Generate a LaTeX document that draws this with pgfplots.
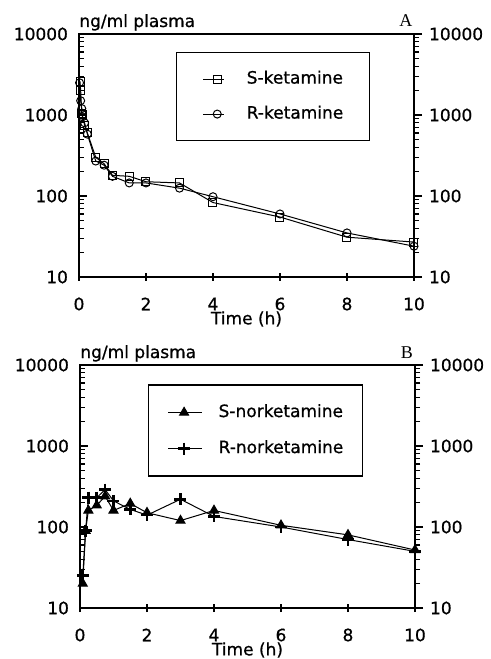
\documentclass[border=0pt]{standalone}
\usepackage{fontspec}
\setmainfont{DejaVu Sans}[RawFeature={embolden=0.8}]
\newfontfamily\serifA{Liberation Serif}
\usepackage{pgfplots}
\pgfplotsset{compat=1.18}

\pgfplotsset{
  every axis/.append style={
    scale only axis, width=167.5pt, height=121.5pt,
    xmin=0, xmax=10, ymin=10, ymax=10000,
    xtick={0,2,...,10},
    clip mode=individual,
    /pgf/number format/1000 sep={},
    /pgf/number format/assume math mode=true,
    axis line style={line width=0.6pt},
    every tick/.style={black, line width=0.6pt},
    major tick length=4pt, minor tick length=2.5pt,
    font=\fontsize{8.5}{10}\selectfont,
  },
  legA/.style={legend image code/.code={%
    \draw[##1,mark=none] (0pt,0pt) -- (10.5pt,0pt);
    \draw[##1,only marks] plot coordinates {(7pt,0pt)};}},
  legB/.style={legend image code/.code={%
    \draw[##1,mark=none] (0pt,0pt) -- (17pt,0pt);
    \draw[##1,only marks] plot coordinates {(8pt,0pt)};}},
  mainax/.style={
    log ticks with fixed point,
    ytick pos=left, xtick pos=bottom,
    xtick align=center, ytick align=inside,
    xticklabel style={anchor=center, yshift=-11.5pt},
    yticklabel style={xshift=-2pt},
    xlabel={Time (h)},
    xlabel style={at={(axis description cs:0.5,0)}, anchor=center, inner sep=0pt, yshift=-21pt},
    legend cell align=left,
  },
}

\begin{document}
\begin{tikzpicture}
\path (-39.5pt,138.5pt) rectangle (203.5pt,-191pt);

% panel A
\begin{semilogyaxis}[mainax, name=top, at={(0,0)}, anchor=south west,
  legend style={at={(0.29,0.926)}, anchor=north west, draw=black, line width=0.6pt,
    inner xsep=13pt, inner ysep=9pt, row sep=9pt,
    nodes={inner sep=0pt, text height=6.5pt, text depth=2pt},
    /tikz/every odd column/.style={column sep=11pt}},
]
\addplot[black, line width=0.5pt, mark=square, mark size=2pt, legA]
  coordinates {
  (0.03,2600) (0.05,2000) (0.083,1050) (0.1,1000) (0.167,750) (0.25,600)
  (0.5,300) (0.75,250) (1,180) (1.5,175) (2,150) (3,145) (4,83) (6,55) (8,31) (10,27)
};
\addlegendentry{S-ketamine\hspace{4.5pt}}
\addplot[black, line width=0.5pt, mark=o, mark size=2pt, legA]
  coordinates {
  (0.017,2500) (0.05,1500) (0.083,1200) (0.1,950) (0.167,800) (0.25,580)
  (0.5,270) (0.75,240) (1,175) (1.5,145) (2,145) (3,125) (4,98) (6,60) (8,35) (10,24)
};
\addlegendentry{R-ketamine}
\node[anchor=base west, inner sep=0pt, yshift=3.5pt, font=\fontsize{8.5}{10}\selectfont] at (rel axis cs:0,1) {ng/ml plasma};
\node[anchor=base, inner sep=0pt, yshift=3.5pt, font=\serifA\fontsize{9}{10}\selectfont] at (rel axis cs:0.976,1) {A};
\end{semilogyaxis}
\begin{semilogyaxis}[at={(0,0)}, anchor=south west,
  log ticks with fixed point,
  axis y line*=right, hide x axis, ytick align=outside]
\addplot[draw=none] coordinates {(1,100)};
\end{semilogyaxis}

% panel B
\begin{semilogyaxis}[mainax, name=bot, at={(0.5pt,-165.5pt)}, anchor=south west,
  legend style={at={(0.203,0.92)}, anchor=north west, draw=black, line width=0.6pt,
    inner xsep=9.5pt, inner ysep=9.5pt, row sep=9.5pt,
    nodes={inner sep=0pt, text height=6.5pt, text depth=2pt},
    /tikz/every odd column/.style={column sep=8pt}},
]
\addplot[black, line width=0.5pt, mark=triangle*, mark size=2.6pt, legB]
  coordinates {
  (0.083,20) (0.167,90) (0.25,160) (0.5,185) (0.75,240) (1,160) (1.5,195)
  (2,150) (3,120) (4,160) (6,105) (8,80) (10,52)
};
\addlegendentry{S-norketamine\hspace{3pt}}
\addplot[black, line width=0.5pt, mark=+, mark size=3pt, mark options={line width=1.3pt}, legB]
  coordinates {
  (0.083,25) (0.167,90) (0.25,230) (0.5,230) (0.75,290) (1,210) (1.5,165)
  (2,140) (3,220) (4,135) (6,100) (8,70) (10,50)
};
\addlegendentry{R-norketamine}
\node[anchor=base west, inner sep=0pt, yshift=3.5pt, font=\fontsize{8.5}{10}\selectfont] at (rel axis cs:0,1) {ng/ml plasma};
\node[anchor=base, inner sep=0pt, yshift=3.5pt, font=\serifA\fontsize{9}{10}\selectfont] at (rel axis cs:0.976,1) {B};
\end{semilogyaxis}
\begin{semilogyaxis}[at={(0.5pt,-165.5pt)}, anchor=south west,
  log ticks with fixed point,
  axis y line*=right, hide x axis, ytick align=outside]
\addplot[draw=none] coordinates {(1,100)};
\end{semilogyaxis}
\end{tikzpicture}
\end{document}
